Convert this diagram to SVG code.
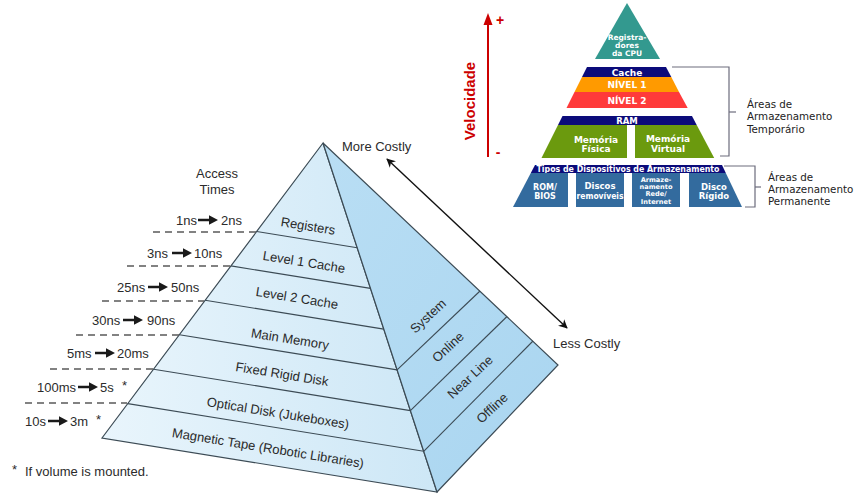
<svg xmlns="http://www.w3.org/2000/svg" width="860" height="498" viewBox="0 0 860 498">
<style>
.lbl{font-family:"Liberation Sans",Arial,sans-serif;font-size:13px;fill:#2b2b2b}
.lblm{font-family:"Liberation Sans",Arial,sans-serif;font-size:13px;fill:#2b2b2b;text-anchor:middle}
.band{stroke:#3c4b55;stroke-width:1.1;fill:none}
.dash{stroke:#5a5a5a;stroke-width:1.3;stroke-dasharray:7 5;fill:none}
.w{font-family:"DejaVu Sans",Verdana,sans-serif;font-weight:bold;fill:#ffffff;text-anchor:middle}
.area{font-family:"DejaVu Sans",Verdana,sans-serif;font-size:10.3px;fill:#222}
.brk{stroke:#6c6c7c;stroke-width:1.2;fill:none}
</style>
<defs>
<linearGradient id="gFront" x1="0" y1="0" x2="1" y2="0">
<stop offset="0" stop-color="#e9f5fc"/>
<stop offset="1" stop-color="#cde7f6"/>
</linearGradient>
<linearGradient id="gSide" x1="0" y1="0" x2="1" y2="1">
<stop offset="0" stop-color="#b9def4"/>
<stop offset="1" stop-color="#a9d5f0"/>
</linearGradient>
<path id="tArrow" d="M0,-1.2 H11 V-4.8 L20,0 L11,4.8 V1.2 H0 Z" fill="#1a1a1a"/>
<marker id="mHead" viewBox="0 0 10 10" refX="9" refY="5" markerWidth="9" markerHeight="9" orient="auto-start-reverse" markerUnits="userSpaceOnUse">
<path d="M0,0 L10,5 L0,10 L3,5 Z" fill="#111"/>
</marker>
</defs>

<!-- Big pyramid -->
<g id="pyramid">
<polygon points="323,143 102,438 437,492" fill="url(#gFront)" stroke="#3c4b55" stroke-width="1.2"/>
<polygon points="323,143 437,492 558,365" fill="url(#gSide)" stroke="#3c4b55" stroke-width="1.2"/>
<line class="band" x1="256.7" y1="231.5" x2="357.2" y2="247.7"/>
<line class="band" x1="230.9" y1="265.9" x2="370.5" y2="288.4"/>
<line class="band" x1="205.1" y1="300.3" x2="383.8" y2="329.1"/>
<line class="band" x1="179.4" y1="334.8" x2="397.1" y2="369.9"/>
<line class="band" x1="153.6" y1="369.2" x2="410.4" y2="410.6"/>
<line class="band" x1="127.8" y1="403.6" x2="423.7" y2="451.3"/>
<line class="band" x1="397.1" y1="369.9" x2="480" y2="291"/>
<line class="band" x1="410.4" y1="410.6" x2="507" y2="316.5"/>
<line class="band" x1="423.7" y1="451.3" x2="533" y2="341"/>
</g>
<g id="tier-registers"><text class="lblm" transform="translate(308,226) rotate(9.2)" y="4.5">Registers</text></g>
<g id="tier-l1"><text class="lblm" transform="translate(304,262) rotate(9.2)" y="4.5">Level 1 Cache</text></g>
<g id="tier-l2"><text class="lblm" transform="translate(297,298) rotate(9.2)" y="4.5">Level 2 Cache</text></g>
<g id="tier-main"><text class="lblm" transform="translate(290,339) rotate(9.2)" y="4.5">Main Memory</text></g>
<g id="tier-disk"><text class="lblm" transform="translate(282,374) rotate(9.2)" y="4.5">Fixed Rigid Disk</text></g>
<g id="tier-optical"><text class="lblm" transform="translate(278,413) rotate(9.2)" y="4.5">Optical Disk (Jukeboxes)</text></g>
<g id="tier-tape"><text class="lblm" transform="translate(268,448) rotate(9.2)" y="4.5">Magnetic Tape (Robotic Libraries)</text></g>
<g id="side-system"><text class="lblm" transform="translate(428,316) rotate(-43)" y="4.5">System</text></g>
<g id="side-online"><text class="lblm" transform="translate(448,347) rotate(-43)" y="4.5">Online</text></g>
<g id="side-nearline"><text class="lblm" transform="translate(470,377) rotate(-43)" y="4.5">Near Line</text></g>
<g id="side-offline"><text class="lblm" transform="translate(492,408) rotate(-43)" y="4.5">Offline</text></g>

<!-- Access times -->
<g id="access-times">
<text class="lblm" x="217" y="178">Access</text>
<text class="lblm" x="217" y="194">Times</text>
<text class="lbl" x="176" y="225">1ns</text><use href="#tArrow" x="198" y="220"/><text class="lbl" x="221" y="225">2ns</text>
<text class="lbl" x="147" y="258">3ns</text><use href="#tArrow" x="172" y="253"/><text class="lbl" x="194" y="258">10ns</text>
<text class="lbl" x="117" y="292">25ns</text><use href="#tArrow" x="148" y="287"/><text class="lbl" x="171" y="292">50ns</text>
<text class="lbl" x="92" y="325">30ns</text><use href="#tArrow" x="123" y="320"/><text class="lbl" x="147" y="325">90ns</text>
<text class="lbl" x="67" y="358">5ms</text><use href="#tArrow" x="95" y="353"/><text class="lbl" x="117" y="358">20ms</text>
<text class="lbl" x="37" y="392">100ms</text><use href="#tArrow" x="78" y="387"/><text class="lbl" x="100" y="392">5s</text><text class="lbl" x="122" y="390">*</text>
<text class="lbl" x="25" y="426">10s</text><use href="#tArrow" x="48" y="421"/><text class="lbl" x="70" y="426">3m</text><text class="lbl" x="96" y="424">*</text>
<line class="dash" x1="153" y1="232" x2="256" y2="232"/>
<line class="dash" x1="127" y1="266" x2="230" y2="266"/>
<line class="dash" x1="102" y1="301" x2="204" y2="301"/>
<line class="dash" x1="76" y1="335" x2="179" y2="335"/>
<line class="dash" x1="50" y1="369" x2="153" y2="369"/>
<line class="dash" x1="25" y1="403" x2="127" y2="403"/>
<text class="lbl" x="12" y="474">*</text>
<text class="lbl" x="25" y="476">If volume is mounted.</text>
</g>

<!-- Cost arrow -->
<g id="connectors">
<line x1="387" y1="159" x2="567" y2="328" stroke="#111" stroke-width="1.4" marker-start="url(#mHead)" marker-end="url(#mHead)"/>
<line x1="488" y1="157" x2="488" y2="22" stroke="#cc0000" stroke-width="2"/>
<polygon points="488,13 483.5,25 492.5,25" fill="#cc0000"/>
</g>
<g id="cost-labels">
<text class="lbl" x="342" y="151">More Costly</text>
<text class="lbl" x="553" y="348">Less Costly</text>
</g>

<!-- Speed label -->
<g id="speed">
<text transform="translate(475,101) rotate(-90)" font-family="Liberation Sans,Arial,sans-serif" font-weight="bold" font-size="15" fill="#cc0000" text-anchor="middle">Velocidade</text>
<text x="500" y="25" font-family="Liberation Sans,Arial,sans-serif" font-weight="bold" font-size="14" fill="#cc0000" text-anchor="middle">+</text>
<text x="498" y="157" font-family="Liberation Sans,Arial,sans-serif" font-weight="bold" font-size="14" fill="#cc0000" text-anchor="middle">-</text>
</g>

<!-- Small pyramid -->
<g id="registradores">
<polygon points="627,3 595,59 660,59" fill="#33998f"/>
<text class="w" font-size="7.5" x="627" y="40">Registra-</text>
<text class="w" font-size="7.5" x="627" y="48">dores</text>
<text class="w" font-size="7.5" x="627" y="56">da CPU</text>
</g>
<g id="cache">
<polygon points="587,67 666,67 671.3,77 582,77" fill="#0b0b7a"/>
<text class="w" font-size="9" x="627" y="75.5">Cache</text>
</g>
<g id="nivel1">
<polygon points="582,77 671.3,77 679,92 574.5,92" fill="#ff9a00"/>
<text class="w" font-size="9" x="627" y="88">NÍVEL 1</text>
</g>
<g id="nivel2">
<polygon points="574.5,92 679,92 687.7,108 566.5,108" fill="#ff3a3a"/>
<text class="w" font-size="9" x="627" y="103.5">NÍVEL 2</text>
</g>
<g id="ram">
<polygon points="562.5,116 692,116 696.7,125 558,125" fill="#0b0b7a"/>
<text class="w" font-size="8.5" x="627" y="123.5">RAM</text>
</g>
<g id="mem-fisica">
<polygon points="558,125 627,125 627,158 541.5,158" fill="#6b9a0e"/>
<text class="w" font-size="9" x="596" y="143">Memória</text>
<text class="w" font-size="9" x="596" y="152">Física</text>
</g>
<g id="mem-virtual">
<polygon points="635,125 696.7,125 714.2,158 635,158" fill="#6b9a0e"/>
<text class="w" font-size="9" x="668" y="142">Memória</text>
<text class="w" font-size="9" x="668" y="151.5">Virtual</text>
</g>
<g id="tipos">
<polygon points="535,165 722,165 725.8,173 530.8,173" fill="#0b0b7a"/>
<text class="w" font-size="8" x="628" y="172" textLength="183" lengthAdjust="spacingAndGlyphs">Tipos de Dispositivos de Armazenamento</text>
</g>
<g id="rom-bios">
<polygon points="530.8,173 568,173 568,207 513,207" fill="#336b9e"/>
<text class="w" font-size="8" x="545" y="189.5">ROM/</text>
<text class="w" font-size="8" x="545" y="198.5">BIOS</text>
</g>
<g id="discos">
<rect x="576" y="173" width="48" height="34" fill="#336b9e"/>
<text class="w" font-size="8.5" x="600" y="189">Discos</text>
<text class="w" font-size="8" x="600" y="199" textLength="47" lengthAdjust="spacingAndGlyphs">removíveis</text>
</g>
<g id="rede">
<rect x="632" y="173" width="48" height="34" fill="#336b9e"/>
<text class="w" font-size="6.6" x="656" y="182">Armaze-</text>
<text class="w" font-size="6.6" x="656" y="189.2">namento</text>
<text class="w" font-size="6.6" x="656" y="196.4">Rede/</text>
<text class="w" font-size="6.6" x="656" y="203.6">Internet</text>
</g>
<g id="disco-rigido">
<polygon points="689,173 725.8,173 742,207 689,207" fill="#336b9e"/>
<text class="w" font-size="8.5" x="714" y="190">Disco</text>
<text class="w" font-size="8.5" x="714" y="199">Rígido</text>
</g>
<g id="brackets">
<polyline class="brk" points="672,67 729,67 729,156 720,156"/>
<line class="brk" x1="729" y1="112" x2="736" y2="112"/>
<polyline class="brk" points="724,166 755,166 755,207 745,207"/>
<line class="brk" x1="755" y1="187" x2="761" y2="187"/>
</g>
<g id="area-temp">
<text class="area" x="747" y="108">Áreas de</text>
<text class="area" x="747" y="120">Armazenamento</text>
<text class="area" x="747" y="133">Temporário</text>
</g>
<g id="area-perm">
<text class="area" x="768" y="181">Áreas de</text>
<text class="area" x="768" y="193">Armazenamento</text>
<text class="area" x="768" y="205">Permanente</text>
</g>
</svg>
